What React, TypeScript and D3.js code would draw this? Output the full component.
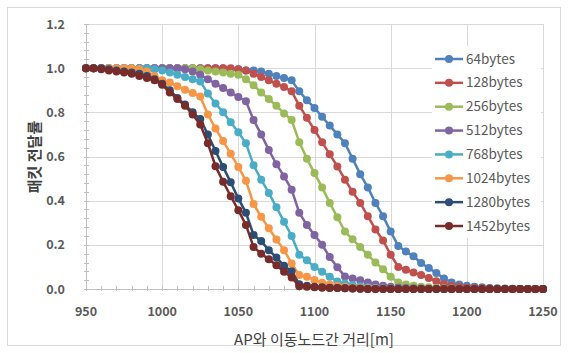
import { useEffect, useRef } from "react";
import * as d3 from "d3";

const WIDTH = 568;
const HEIGHT = 353;
const PLOT = { left: 86, right: 543, top: 24, bottom: 289 };
const FONT = "'Malgun Gothic', 'Noto Sans CJK KR', 'Noto Sans', sans-serif";
const TEXT_COLOR = "#595959";
const GRID_COLOR = "#d9d9d9";

// distance from AP (m)
const distances = [
  950, 955, 960, 965, 970, 975, 980, 985, 990, 995,
  1000, 1005, 1010, 1015, 1020, 1025, 1030, 1035, 1040, 1045,
  1050, 1055, 1060, 1065, 1070, 1075, 1080, 1085, 1090, 1095,
  1100, 1105, 1110, 1115, 1120, 1125, 1130, 1135, 1140, 1145,
  1150, 1155, 1160, 1165, 1170, 1175, 1180, 1185, 1190, 1195,
  1200, 1205, 1210, 1215, 1220, 1225, 1230, 1235, 1240, 1245,
  1250,
];

const xTicks = [950, 1000, 1050, 1100, 1150, 1200, 1250];
const yTicks = [0, 0.2, 0.4, 0.6, 0.8, 1.0, 1.2];

const seriesNames = ["64bytes", "128bytes", "256bytes", "512bytes", "768bytes", "1024bytes", "1280bytes", "1452bytes"];
const seriesColors = ["#4f81bd", "#c0504d", "#9bbb59", "#8064a2", "#4bacc6", "#f79646", "#2c4d75", "#772c2a"];

const bytes64 = [
  1, 1, 1, 1, 1, 1, 1, 1, 1, 1,
  1, 1, 1, 1, 1, 1, 1, 1, 1, 0.995,
  0.995, 0.99, 0.99, 0.985, 0.975, 0.965, 0.955, 0.945, 0.895, 0.855,
  0.82, 0.78, 0.74, 0.7, 0.66, 0.59, 0.52, 0.46, 0.39, 0.33,
  0.26, 0.195, 0.17, 0.148, 0.118, 0.095, 0.072, 0.048, 0.03, 0.02,
  0.015, 0.01, 0.008, 0.005, 0.003, 0.002, 0.001, 0, 0, 0,
  0,
];
const bytes128 = [
  1, 1, 1, 1, 1, 1, 1, 1, 1, 1,
  1, 1, 1, 1, 1, 1, 1, 1, 1, 1,
  0.995, 0.99, 0.975, 0.96, 0.945, 0.93, 0.915, 0.895, 0.83, 0.775,
  0.72, 0.665, 0.61, 0.555, 0.495, 0.44, 0.39, 0.33, 0.27, 0.22,
  0.155, 0.1, 0.087, 0.075, 0.063, 0.05, 0.035, 0.022, 0.014, 0.01,
  0.007, 0.005, 0.003, 0.002, 0.001, 0, 0, 0, 0, 0,
  0,
];
const bytes256 = [
  1, 1, 1, 1, 1, 1, 1, 1, 1, 1,
  1, 1, 1, 1, 1, 0.995, 0.99, 0.985, 0.98, 0.975,
  0.97, 0.95, 0.923, 0.89, 0.86, 0.83, 0.795, 0.765, 0.665, 0.59,
  0.525, 0.46, 0.39, 0.325, 0.26, 0.225, 0.19, 0.155, 0.12, 0.09,
  0.055, 0.03, 0.02, 0.015, 0.01, 0.008, 0.005, 0.003, 0.002, 0.001,
  0, 0, 0, 0, 0, 0, 0, 0, 0, 0,
  0,
];
const bytes512 = [
  1, 1, 1, 1, 1, 1, 1, 1, 1, 1,
  1, 1, 1, 0.995, 0.985, 0.97, 0.95, 0.93, 0.91, 0.89,
  0.87, 0.85, 0.765, 0.7, 0.63, 0.565, 0.51, 0.45, 0.345, 0.29,
  0.245, 0.2, 0.145, 0.098, 0.057, 0.048, 0.04, 0.03, 0.02, 0.015,
  0.01, 0.007, 0.005, 0.003, 0.002, 0.001, 0, 0, 0, 0,
  0, 0, 0, 0, 0, 0, 0, 0, 0, 0,
  0,
];
const bytes768 = [
  1, 1, 1, 1, 1, 1, 1, 1, 1, 0.995,
  0.99, 0.98, 0.97, 0.96, 0.95, 0.94, 0.885, 0.84, 0.8, 0.755,
  0.71, 0.66, 0.56, 0.495, 0.435, 0.37, 0.305, 0.24, 0.155, 0.13,
  0.1, 0.078, 0.056, 0.034, 0.025, 0.018, 0.012, 0.008, 0.005, 0.003,
  0.002, 0.001, 0, 0, 0, 0, 0, 0, 0, 0,
  0, 0, 0, 0, 0, 0, 0, 0, 0, 0,
  0,
];
const bytes1024 = [
  1, 1, 1, 1, 1, 1, 1, 0.995, 0.985, 0.965,
  0.945, 0.935, 0.918, 0.902, 0.887, 0.872, 0.79, 0.727, 0.67, 0.612,
  0.553, 0.49, 0.385, 0.327, 0.275, 0.224, 0.176, 0.116, 0.063, 0.055,
  0.041, 0.028, 0.02, 0.014, 0.01, 0.007, 0.005, 0.003, 0.002, 0.001,
  0, 0, 0, 0, 0, 0, 0, 0, 0, 0,
  0, 0, 0, 0, 0, 0, 0, 0, 0, 0,
  0,
];
const bytes1280 = [
  1, 1, 1, 0.995, 0.99, 0.985, 0.98, 0.975, 0.965, 0.95,
  0.93, 0.9, 0.865, 0.835, 0.8, 0.77, 0.7, 0.625, 0.553, 0.483,
  0.41, 0.345, 0.245, 0.217, 0.176, 0.143, 0.105, 0.08, 0.022, 0.015,
  0.01, 0.008, 0.006, 0.004, 0.003, 0.002, 0.001, 0, 0, 0,
  0, 0, 0, 0, 0, 0, 0, 0, 0, 0,
  0, 0, 0, 0, 0, 0, 0, 0, 0, 0,
  0,
];
const bytes1452 = [
  1, 1, 0.995, 0.99, 0.985, 0.98, 0.975, 0.965, 0.955, 0.945,
  0.925, 0.89, 0.86, 0.83, 0.79, 0.745, 0.66, 0.556, 0.486, 0.42,
  0.357, 0.29, 0.19, 0.16, 0.135, 0.108, 0.078, 0.052, 0.012, 0.01,
  0.008, 0.006, 0.005, 0.004, 0.003, 0.002, 0.001, 0, 0, 0,
  0, 0, 0, 0, 0, 0, 0, 0, 0, 0,
  0, 0, 0, 0, 0, 0, 0, 0, 0, 0,
  0,
];

const seriesValues = [bytes64, bytes128, bytes256, bytes512, bytes768, bytes1024, bytes1280, bytes1452];

type Pt = { d: number; v: number };

export default function App() {
  const svgRef = useRef<SVGSVGElement | null>(null);

  useEffect(() => {
    const svgEl = svgRef.current;
    if (!svgEl) return;
    const svg = d3.select(svgEl);
    svg.selectAll("*").remove();

    const x = d3.scaleLinear().domain([950, 1250]).range([PLOT.left, PLOT.right]);
    const y = d3.scaleLinear().domain([0, 1.2]).range([PLOT.bottom, PLOT.top]);

    // chart border
    svg
      .append("rect")
      .attr("x", 7.5)
      .attr("y", 7.5)
      .attr("width", WIDTH - 15)
      .attr("height", HEIGHT - 15)
      .attr("fill", "#fff")
      .attr("stroke", GRID_COLOR);

    // gridlines
    const gGrid = svg.append("g");
    gGrid
      .selectAll("line.h")
      .data(yTicks.filter((t) => t > 0))
      .join("line")
      .attr("class", "h")
      .attr("x1", PLOT.left)
      .attr("x2", PLOT.right)
      .attr("y1", (t) => Math.round(y(t)) + 0.5)
      .attr("y2", (t) => Math.round(y(t)) + 0.5)
      .attr("stroke", GRID_COLOR);
    gGrid
      .selectAll("line.v")
      .data(xTicks.filter((t) => t > 950))
      .join("line")
      .attr("class", "v")
      .attr("x1", (t) => Math.round(x(t)) + 0.5)
      .attr("x2", (t) => Math.round(x(t)) + 0.5)
      .attr("y1", PLOT.top)
      .attr("y2", PLOT.bottom)
      .attr("stroke", GRID_COLOR);

    // axes lines + minor ticks
    const gAxis = svg.append("g").attr("stroke", "#bfbfbf");
    gAxis
      .append("line")
      .attr("x1", PLOT.left + 0.5)
      .attr("x2", PLOT.left + 0.5)
      .attr("y1", PLOT.top)
      .attr("y2", PLOT.bottom);
    gAxis
      .append("line")
      .attr("x1", PLOT.left)
      .attr("x2", PLOT.right)
      .attr("y1", PLOT.bottom + 0.5)
      .attr("y2", PLOT.bottom + 0.5);
    gAxis
      .selectAll("line.ym")
      .data(d3.range(0, 31).map((i) => i * 0.04))
      .join("line")
      .attr("class", "ym")
      .attr("x1", PLOT.left - 2)
      .attr("x2", PLOT.left + 3)
      .attr("y1", (t) => Math.round(y(t)) + 0.5)
      .attr("y2", (t) => Math.round(y(t)) + 0.5);
    gAxis
      .selectAll("line.xm")
      .data(d3.range(0, 31).map((i) => 950 + i * 10))
      .join("line")
      .attr("class", "xm")
      .attr("x1", (t) => Math.round(x(t)) + 0.5)
      .attr("x2", (t) => Math.round(x(t)) + 0.5)
      .attr("y1", PLOT.bottom - 3)
      .attr("y2", PLOT.bottom + 2);

    // tick labels
    svg
      .append("g")
      .selectAll("text")
      .data(yTicks)
      .join("text")
      .attr("x", 65)
      .attr("y", (t) => y(t) + 4.5)
      .attr("text-anchor", "end")
      .attr("fill", TEXT_COLOR)
      .attr("font-family", FONT)
      .attr("font-weight", "bold")
      .attr("font-size", "12.5px")
      .text((t) => d3.format(".1f")(t));
    svg
      .append("g")
      .selectAll("text")
      .data(xTicks)
      .join("text")
      .attr("x", (t) => x(t))
      .attr("y", 316)
      .attr("text-anchor", "middle")
      .attr("fill", TEXT_COLOR)
      .attr("font-family", FONT)
      .attr("font-weight", "bold")
      .attr("font-size", "12.5px")
      .text((t) => String(t));

    // axis titles
    svg
      .append("text")
      .attr("transform", "translate(40, 157) rotate(-90)")
      .attr("text-anchor", "middle")
      .attr("fill", "#404040")
      .attr("font-family", FONT)
      .attr("font-weight", "bold")
      .attr("font-size", "15px")
      .text("패킷 전달률");
    svg
      .append("text")
      .attr("x", 314)
      .attr("y", 345)
      .attr("text-anchor", "middle")
      .attr("fill", "#404040")
      .attr("font-family", FONT)
      .attr("font-size", "15px")
      .text("AP와 이동노드간 거리[m]");

    // series
    const line = d3
      .line<Pt>()
      .x((p) => x(p.d))
      .y((p) => y(p.v));
    const gSeries = svg.append("g");
    seriesValues.forEach((vals, i) => {
      const pts: Pt[] = vals.map((v, j) => ({ d: distances[j], v }));
      const g = gSeries.append("g");
      g.append("path")
        .attr("d", line(pts))
        .attr("fill", "none")
        .attr("stroke", seriesColors[i])
        .attr("stroke-width", 2.5);
      g.selectAll("circle")
        .data(pts)
        .join("circle")
        .attr("cx", (p) => x(p.d))
        .attr("cy", (p) => y(p.v))
        .attr("r", 4)
        .attr("fill", seriesColors[i]);
    });

    // legend
    const legendY = d3.scaleLinear().domain([0, 7]).range([59, 226]);
    svg
      .append("rect")
      .attr("x", 432)
      .attr("y", 46)
      .attr("width", 109)
      .attr("height", 192)
      .attr("fill", "#fff");
    const gLegend = svg.append("g");
    seriesNames.forEach((name, i) => {
      const ly = legendY(i);
      gLegend
        .append("line")
        .attr("x1", 435)
        .attr("x2", 463)
        .attr("y1", ly)
        .attr("y2", ly)
        .attr("stroke", seriesColors[i])
        .attr("stroke-width", 2.5);
      gLegend.append("circle").attr("cx", 449).attr("cy", ly).attr("r", 4).attr("fill", seriesColors[i]);
      gLegend
        .append("text")
        .attr("x", 466)
        .attr("y", ly + 4.5)
        .attr("fill", TEXT_COLOR)
        .attr("font-family", FONT)
        .attr("font-size", "13.5px")
        .text(name);
    });
  }, []);

  return (
    <svg
      ref={svgRef}
      width={WIDTH}
      height={HEIGHT}
      viewBox={`0 0 ${WIDTH} ${HEIGHT}`}
      style={{ position: "absolute", left: 0, top: 0, background: "#fff" }}
    />
  );
}
